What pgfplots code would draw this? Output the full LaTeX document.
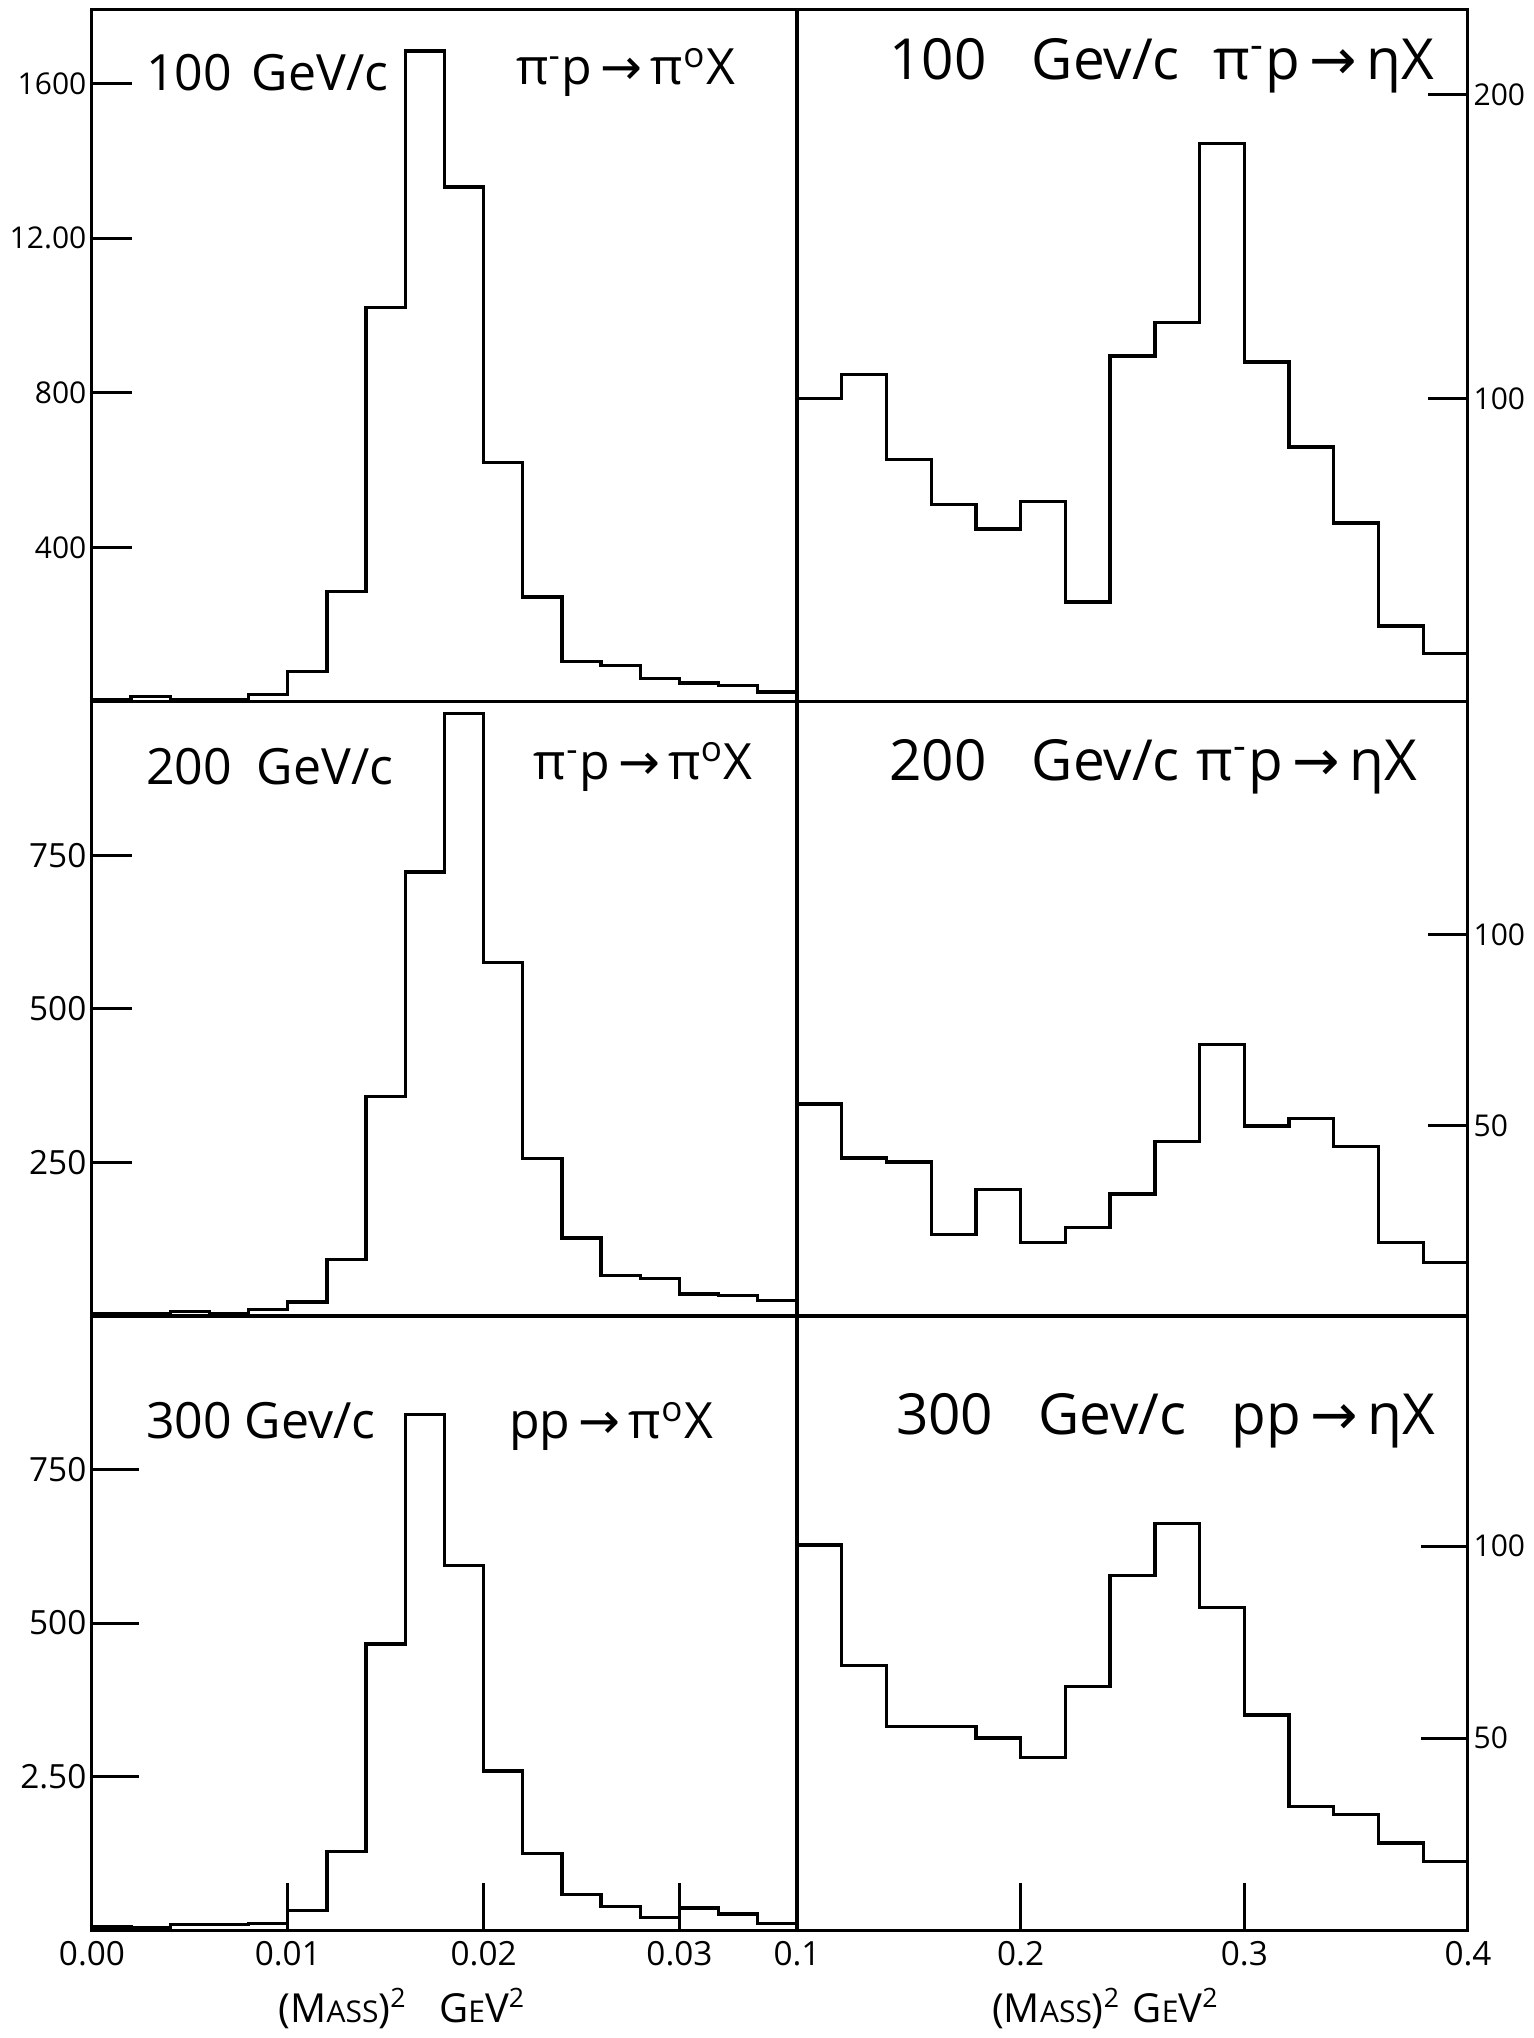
\documentclass[border=0pt]{standalone}
\usepackage{fontspec}
\setmainfont{Open Sans}
\newfontfamily\symf{DejaVu Sans}
\usepackage{pgfplots}
\pgfplotsset{compat=1.18}
\newcommand{\arr}{{\symf →}}
\pgfplotsset{
 panel/.style={scale only axis, anchor=south west, ymin=0, clip=false,
   axis line style={line width=0.9pt},
   tick style={black, line width=0.9pt},
   tick align=inside, major tick length=12pt,
   scaled x ticks=false, scaled y ticks=false,
   /pgf/number format/assume math mode=true,
   tick label style={font=\fontsize{10}{12}\selectfont},
   yticklabel style={inner xsep=1.5pt},
 },
 leftp/.style={panel, xmin=0, xmax=0.036, width=211.5pt, ytick pos=left},
 rightp/.style={panel, xmin=0.1, xmax=0.4, width=201.3pt, ytick pos=right, yticklabel pos=right,
   yticklabel style={font=\fontsize{9}{10}\selectfont, inner xsep=1.5pt}},
 hist/.style={const plot, black, line width=1pt, mark=none},
}
\tikzset{
 ttl/.style={anchor=west, font=\fontsize{15}{18}\selectfont},
 ttlb/.style={anchor=west, font=\fontsize{17}{20}\selectfont},
}
\begin{document}
\begin{tikzpicture}
\useasboundingbox (-27.6pt,-32.4pt) rectangle (432.6pt,579pt);

% ---------- top left
\begin{axis}[leftp, at={(0pt,368.4pt)}, height=207.6pt, ymax=1790,
  ytick={400,800,1200,1600}, yticklabels={400,800,12.00,1600}, xtick=\empty,
  yticklabel style={font=\fontsize{9}{10}\selectfont}]
\addplot[hist] coordinates {(0,5)(0.002,14)(0.004,7)(0.006,7)(0.008,20)(0.010,79)(0.012,285)(0.014,1020)(0.016,1684)(0.018,1332)(0.020,619)(0.022,272)(0.024,105)(0.026,95)(0.028,61)(0.030,49)(0.032,42)(0.034,26)(0.036,26)};
\node[ttl] at (rel axis cs:0.06,0.91) {100\hspace{0.4em}GeV/c};
\node[ttl] at (rel axis cs:0.585,0.91) {π\textsuperscript{-}p\,\arr\,π\textsuperscript{o}X};
\end{axis}

% ---------- top right
\begin{axis}[rightp, at={(211.5pt,368.4pt)}, height=207.6pt, ymax=228,
  ytick={100,200}, yticklabels={100,200}, xtick=\empty]
\addplot[hist] coordinates {(0.10,100)(0.12,108)(0.14,80)(0.16,65)(0.18,57)(0.20,66)(0.22,33)(0.24,114)(0.26,125)(0.28,184)(0.30,112)(0.32,84)(0.34,59)(0.36,25)(0.38,16)(0.40,16)};
\node[ttlb] at (rel axis cs:0.12,0.92) {100\hspace{0.8em}Gev/c\hspace{0.6em}π\textsuperscript{-}p\,\arr\,ηX};
\end{axis}

% ---------- middle left
\begin{axis}[leftp, at={(0pt,184.2pt)}, height=184.2pt, ymax=1000,
  ytick={250,500,750}, yticklabels={250,500,750}, xtick=\empty]
\addplot[hist] coordinates {(0,3)(0.002,4)(0.004,7)(0.006,4)(0.008,11)(0.010,23)(0.012,92)(0.014,358)(0.016,723)(0.018,981)(0.020,576)(0.022,257)(0.024,127)(0.026,66)(0.028,61)(0.030,36)(0.032,33)(0.034,25)(0.036,25)};
\node[ttl] at (rel axis cs:0.06,0.894) {200\hspace{0.5em}GeV/c};
\node[ttl] at (rel axis cs:0.61,0.894) {π\textsuperscript{-}p\,\arr\,π\textsuperscript{o}X};
\end{axis}

% ---------- middle right
\begin{axis}[rightp, at={(211.5pt,184.2pt)}, height=184.2pt, ymax=161,
  ytick={50,100}, yticklabels={50,100}, xtick=\empty]
\addplot[hist] coordinates {(0.10,55.6)(0.12,41.4)(0.14,40.4)(0.16,21.3)(0.18,33.1)(0.20,19.2)(0.22,23.2)(0.24,32.0)(0.26,45.7)(0.28,71.2)(0.30,49.8)(0.32,51.8)(0.34,44.4)(0.36,19.2)(0.38,14.1)(0.40,14.1)};
\node[ttlb] at (rel axis cs:0.12,0.894) {200\hspace{0.8em}Gev/c\hspace{0.3em}π\textsuperscript{-}p\,\arr\,ηX};
\end{axis}

% ---------- bottom left
\begin{axis}[leftp, at={(0pt,0pt)}, height=184.2pt, ymax=1000,
  ytick={250,500,750}, yticklabels={2.50,500,750},
  xtick={0,0.01,0.02,0.03}, xticklabels={0.00,0.01,0.02,0.03}, xtick pos=left,
  major tick length=14pt]
\addplot[hist] coordinates {(0,5)(0.002,3)(0.004,9)(0.006,9)(0.008,11)(0.010,32)(0.012,128)(0.014,466)(0.016,840)(0.018,594)(0.020,259)(0.022,125)(0.024,58)(0.026,38)(0.028,20)(0.030,36)(0.032,26)(0.034,11)(0.036,11)};
\node[ttl] at (rel axis cs:0.06,0.83) {300 Gev/c};
\node[ttl] at (rel axis cs:0.575,0.82) {pp\,\arr\,π\textsuperscript{o}X};
\node[font=\fontsize{12}{14}\selectfont] at (rel axis cs:0.44,0) [yshift=-23.5pt]
  {(M{\fontsize{9}{10}\selectfont ASS})\textsuperscript{2}\hspace{0.8em}G{\fontsize{9}{10}\selectfont E}V\textsuperscript{2}};
\end{axis}

% ---------- bottom right
\begin{axis}[rightp, at={(211.5pt,0pt)}, height=184.2pt, ymax=160,
  ytick={50,100}, yticklabels={50,100},
  xtick={0.1,0.2,0.3,0.4}, xticklabels={0.1,0.2,0.3,0.4}, xtick pos=left,
  major tick length=14pt]
\addplot[hist] coordinates {(0.10,100.3)(0.12,69)(0.14,53)(0.16,53)(0.18,50)(0.20,44.9)(0.22,63.5)(0.24,92.3)(0.26,106)(0.28,84.1)(0.30,56)(0.32,32.2)(0.34,30.1)(0.36,22.7)(0.38,17.9)(0.40,17.9)};
\node[ttlb] at (rel axis cs:0.13,0.83) {300\hspace{0.8em}Gev/c\hspace{0.8em}pp\,\arr\,ηX};
\node[font=\fontsize{12}{14}\selectfont] at (rel axis cs:0.46,0) [yshift=-23.5pt]
  {(M{\fontsize{9}{10}\selectfont ASS})\textsuperscript{2}\hspace{0.3em}G{\fontsize{9}{10}\selectfont E}V\textsuperscript{2}};
\end{axis}
\end{tikzpicture}
\end{document}
